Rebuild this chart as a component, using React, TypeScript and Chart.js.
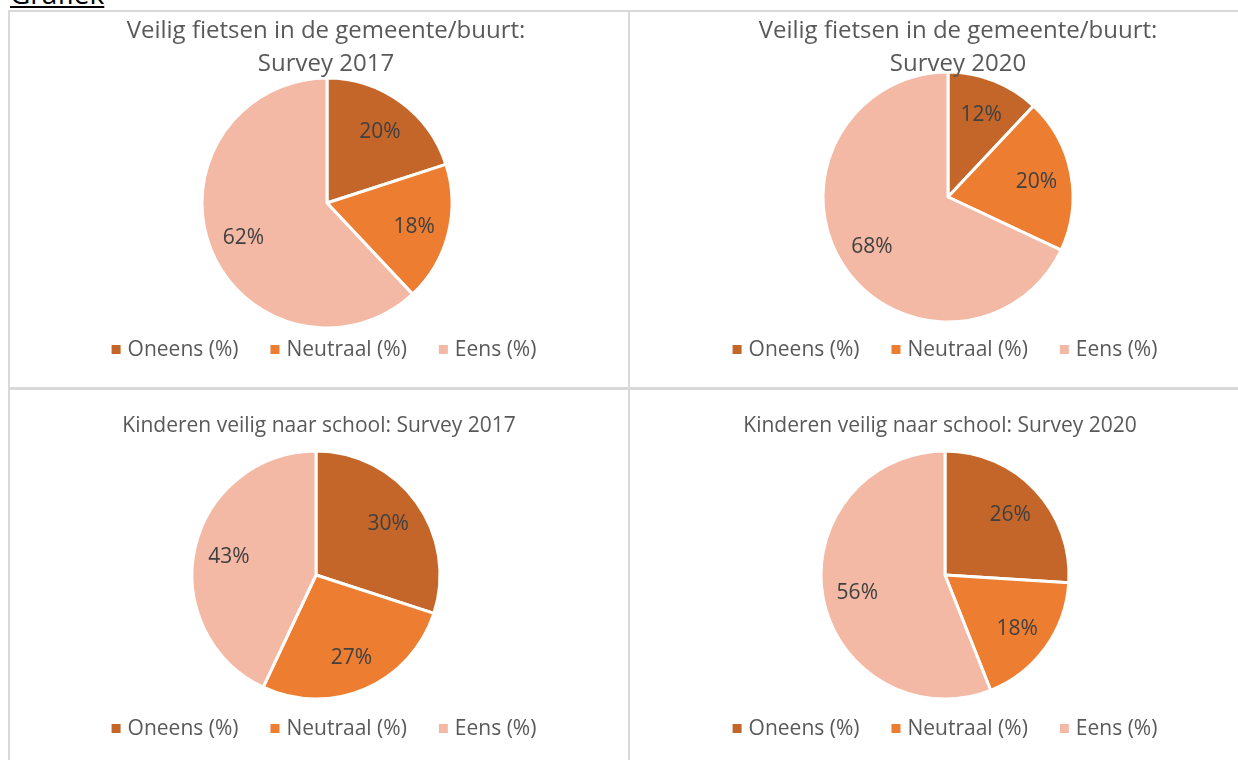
import React, { useEffect, useRef } from "react";
import { Chart, registerables } from "chart.js";

Chart.register(...registerables);

// ---- data ----
const categories = ["Oneens (%)", "Neutraal (%)", "Eens (%)"];
const fietsen2017 = [20, 18, 62];
const fietsen2020 = [12, 20, 68];
const kinderen2017 = [30, 27, 43];
const kinderen2020 = [26, 18, 56];

const titleFietsen2017 = ["Veilig fietsen in de gemeente/buurt:", "Survey 2017"];
const titleFietsen2020 = ["Veilig fietsen in de gemeente/buurt:", "Survey 2020"];
const titleKinderen2017 = ["Kinderen veilig naar school: Survey 2017"];
const titleKinderen2020 = ["Kinderen veilig naar school: Survey 2020"];

// ---- styles ----
const sliceColors = ["#C4662A", "#ED7D31", "#F4B9A5"];
const FONT = "'Open Sans', 'Noto Sans', sans-serif";
const TEXT_GRAY = "#595959";
const LABEL_GRAY = "#404040";
const GRID = "#D9D9D9";

type Layout = {
  left: number;
  top: number;
  width: number;
  height: number;
  cx: number;
  cy: number;
  radius: number;
  titleCx: number;
  titleBaselines: number[];
  titleSize: number;
  legendCx: number;
  legendBaseline: number;
};

const decorPlugin = {
  id: "decor",
  afterDatasetsDraw(chart: any, _args: any, opts: any) {
    const ctx: CanvasRenderingContext2D = chart.ctx;
    const meta = chart.getDatasetMeta(0);
    const data = chart.data.datasets[0].data as number[];
    const labels = chart.data.labels as string[];
    const colors = chart.data.datasets[0].backgroundColor as string[];
    const L: Layout = opts.layout;
    ctx.save();
    // data labels
    ctx.fillStyle = LABEL_GRAY;
    ctx.font = `${opts.labelSize}px ${FONT}`;
    ctx.textAlign = "center";
    ctx.textBaseline = "alphabetic";
    meta.data.forEach((arc: any, i: number) => {
      const p = arc.getProps(["x", "y", "startAngle", "endAngle", "outerRadius"], true);
      const mid = (p.startAngle + p.endAngle) / 2;
      const d = p.outerRadius * 0.72;
      ctx.fillText(
        `${data[i]}%`,
        p.x + Math.cos(mid) * d,
        p.y + Math.sin(mid) * d + opts.labelSize * 0.36
      );
    });
    // title
    ctx.fillStyle = TEXT_GRAY;
    ctx.font = `${L.titleSize}px ${FONT}`;
    (opts.title as string[]).forEach((line, i) => {
      ctx.fillText(line, L.titleCx - L.left, L.titleBaselines[i] - L.top);
    });
    // legend
    const box = 9;
    const gapText = 7;
    const gapItem = 32;
    ctx.font = `${opts.legendSize}px ${FONT}`;
    ctx.textAlign = "left";
    const widths = labels.map((t) => box + gapText + ctx.measureText(t).width);
    const total = widths.reduce((a, b) => a + b, 0) + gapItem * (labels.length - 1);
    let x = L.legendCx - L.left - total / 2;
    const by = L.legendBaseline - L.top;
    labels.forEach((t, i) => {
      ctx.fillStyle = colors[i];
      ctx.fillRect(x, by - 11, box, box);
      ctx.fillStyle = TEXT_GRAY;
      ctx.fillText(t, x + box + gapText, by);
      x += widths[i] + gapItem;
    });
    ctx.restore();
  },
};

function PiePanel({ values, title, layout }: { values: number[]; title: string[]; layout: Layout }) {
  const ref = useRef<HTMLCanvasElement | null>(null);
  useEffect(() => {
    if (!ref.current) return;
    const L = layout;
    const half = L.radius + 6;
    const cxl = L.cx - L.left;
    const cyl = L.cy - L.top;
    const chart = new Chart(ref.current, {
      type: "pie",
      data: {
        labels: categories,
        datasets: [
          {
            data: values,
            backgroundColor: sliceColors,
            borderColor: "#FFFFFF",
            borderWidth: 3,
            radius: L.radius,
          } as any,
        ],
      },
      options: {
        animation: false,
        responsive: false,
        maintainAspectRatio: false,
        layout: {
          padding: {
            left: cxl - half,
            right: L.width - cxl - half,
            top: cyl - half,
            bottom: L.height - cyl - half,
          },
        },
        plugins: {
          legend: { display: false },
          title: { display: false },
          tooltip: { enabled: false },
          decor: { layout: L, title, labelSize: 21, legendSize: 21 },
        } as any,
      },
      plugins: [decorPlugin],
    });
    return () => chart.destroy();
  }, [values, title, layout]);
  return (
    <canvas
      ref={ref}
      width={layout.width}
      height={layout.height}
      style={{ position: "absolute", left: layout.left, top: layout.top, width: layout.width, height: layout.height }}
    />
  );
}

const layoutTL: Layout = {
  left: 10, top: 12, width: 618, height: 375,
  cx: 327, cy: 203, radius: 125,
  titleCx: 326, titleBaselines: [38, 71], titleSize: 24,
  legendCx: 324, legendBaseline: 356,
};
const layoutTR: Layout = {
  left: 630, top: 12, width: 608, height: 375,
  cx: 948, cy: 197, radius: 125,
  titleCx: 958, titleBaselines: [38, 71], titleSize: 24,
  legendCx: 945, legendBaseline: 356,
};
const layoutBL: Layout = {
  left: 10, top: 390, width: 618, height: 370,
  cx: 316, cy: 575, radius: 124,
  titleCx: 319, titleBaselines: [432], titleSize: 21,
  legendCx: 324, legendBaseline: 735,
};
const layoutBR: Layout = {
  left: 630, top: 390, width: 608, height: 370,
  cx: 945, cy: 575, radius: 124,
  titleCx: 940, titleBaselines: [432], titleSize: 21,
  legendCx: 945, legendBaseline: 735,
};

export default function App() {
  useEffect(() => {
    document.body.style.margin = "0";
    document.body.style.overflow = "hidden";
  }, []);
  const line = (s: React.CSSProperties) => (
    <div style={{ position: "absolute", background: GRID, ...s }} />
  );
  return (
    <div style={{ position: "relative", width: 1238, height: 760, overflow: "hidden", background: "#fff" }}>
      <div
        style={{
          position: "absolute", left: 10, top: -20, fontFamily: FONT, fontSize: 28,
          lineHeight: "26px", color: "#000", textDecoration: "underline", whiteSpace: "nowrap",
        }}
      >
        Grafiek
      </div>
      {line({ left: 8, top: 10, width: 2, height: 750 })}
      {line({ left: 8, top: 10, width: 1230, height: 2 })}
      {line({ left: 628, top: 10, width: 2, height: 750 })}
      {line({ left: 8, top: 387, width: 1230, height: 3 })}
      <PiePanel values={fietsen2017} title={titleFietsen2017} layout={layoutTL} />
      <PiePanel values={fietsen2020} title={titleFietsen2020} layout={layoutTR} />
      <PiePanel values={kinderen2017} title={titleKinderen2017} layout={layoutBL} />
      <PiePanel values={kinderen2020} title={titleKinderen2020} layout={layoutBR} />
    </div>
  );
}
